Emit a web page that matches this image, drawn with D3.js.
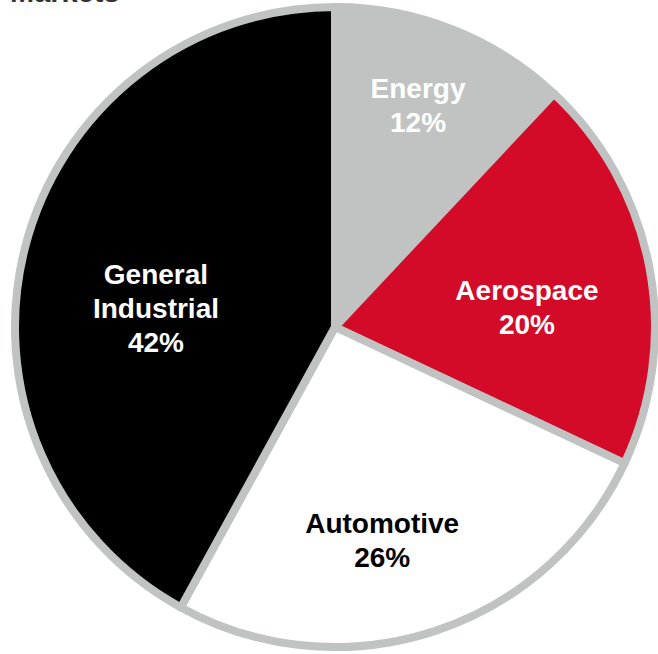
<!DOCTYPE html>
<html>
<head>
<meta charset="utf-8">
<script src="https://cdn.jsdelivr.net/npm/d3@7"></script>
<style>
	body { margin: 0; background: #fff; }
	svg { display: block; }
	text { font-family: Arial, "Liberation Sans", sans-serif; font-weight: bold; }
</style>
</head>
<body>
<svg id="chart" width="658" height="654"></svg>
<script>
// market split, clockwise from 12 o'clock
const segments = ["Energy", "Aerospace", "Automotive", "General Industrial"];
const shares = [12, 20, 26, 42];
const labelLines = [["Energy", "12%"], ["Aerospace", "20%"], ["Automotive", "26%"], ["General", "Industrial", "42%"]];

const fills = ["#c1c3c2", "#d30a28", "#ffffff", "#000000"];
const textColors = ["#ffffff", "#ffffff", "#000000", "#ffffff"];

// label placement: radius from centre, angle in degrees clockwise from top
const labelRadius = [237, 193, 218, 180];
const labelAngle = [20.5, 84, 167.5, 276];

let cx = 335;
let cy = 327;
let radius = 320;
let fontSize = 28;
let lineHeight = 34;

var svg = d3.select("#chart");

svg.append("text")
	.attr("x", 10)
	.attr("y", 2)
	.attr("font-size", 29)
	.attr("fill", "#333333")
	.text("Markets");

const pie = d3.pie().sort(null).value(d => d.value);
const arcs = pie(segments.map((s, i) => ({ name: s, value: shares[i], i: i })));
const arc = d3.arc().innerRadius(0).outerRadius(radius);

const g = svg.append("g").attr("transform", `translate(${cx},${cy})`);

g.selectAll(".slice")
	.data(arcs)
	.enter()
	.append("path")
	.attr("class", "slice")
	.attr("d", arc)
	.attr("fill", d => fills[d.data.i])
	.attr("stroke", "#c1c3c2")
	.attr("stroke-width", 8)
	.attr("stroke-linejoin", "round");

const labels = g.selectAll(".label")
	.data(arcs)
	.enter()
	.append("text")
	.attr("class", "label")
	.attr("text-anchor", "middle")
	.attr("font-size", fontSize)
	.attr("fill", d => textColors[d.data.i])
	.attr("transform", function (d) {
		const a = labelAngle[d.data.i] * Math.PI / 180;
		const r = labelRadius[d.data.i];
		return `translate(${r * Math.sin(a)},${-r * Math.cos(a)})`;
	});

labels.each(function (d) {
	const lines = labelLines[d.data.i];
	const n = lines.length;
	d3.select(this).selectAll("tspan")
		.data(lines)
		.enter()
		.append("tspan")
		.attr("x", 0)
		.attr("y", (l, j) => (j - (n - 1) / 2) * lineHeight + 10)
		.text(l => l);
});
</script>
</body>
</html>
